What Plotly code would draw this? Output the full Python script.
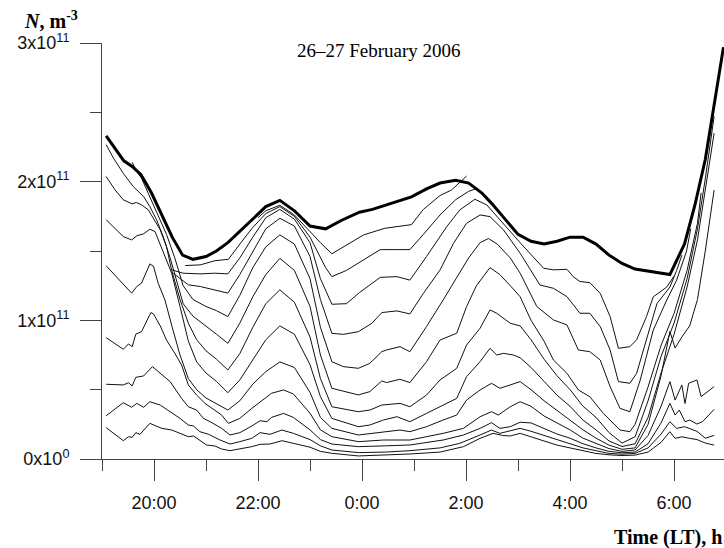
import plotly.graph_objects as go

# Time in hours (19 = 19:00 on 26 Feb, 24 = 0:00, 30 = 6:00 on 27 Feb); N in units of 1e11 m^-3
tick_hours = [20, 22, 24, 26, 28, 30]
tick_text = ["20:00", "22:00", "0:00", "2:00", "4:00", "6:00"]
minor_hours = [19, 21, 23, 25, 27, 29]
y_ticks = [0, 1, 2, 3]
y_text = ["0x10<sup>0</sup>", "1x10<sup>11</sup>", "2x10<sup>11</sup>", "3x10<sup>11</sup>"]
y_minor = [0.5, 1.5, 2.5]

# thick curve (peak density)
t_T = [19.08, 19.25, 19.42, 19.58, 19.75, 19.95, 20.15, 20.35, 20.55, 20.75, 21.0, 21.2, 21.42, 21.65, 21.9,
       22.15, 22.42, 22.7, 23.0, 23.3, 23.6, 23.95, 24.2, 24.45, 24.7, 24.95, 25.25, 25.5, 25.8, 26.05, 26.3,
       26.5, 26.75, 27.0, 27.25, 27.5, 27.75, 28.0, 28.25, 28.5, 28.75, 29.0, 29.25, 29.5, 29.75, 29.92, 30.2,
       30.4, 30.6, 30.77, 30.95]
n_T = [2.33, 2.24, 2.15, 2.11, 2.05, 1.92, 1.76, 1.60, 1.47, 1.44, 1.46, 1.50, 1.56, 1.64, 1.73,
       1.82, 1.865, 1.79, 1.68, 1.66, 1.72, 1.78, 1.80, 1.83, 1.855, 1.89, 1.95, 1.99, 2.01, 1.99, 1.92,
       1.84, 1.73, 1.62, 1.57, 1.55, 1.57, 1.60, 1.60, 1.55, 1.47, 1.41, 1.37, 1.355, 1.345, 1.33, 1.55,
       1.83, 2.16, 2.55, 2.97]

t_C1 = [22.0, 22.15, 22.42, 22.7, 23.0, 23.2, 23.42, 23.7, 24.03, 24.44, 24.7, 24.95, 25.18, 25.5, 25.72, 26.01]
n_C1 = [1.74, 1.79, 1.83, 1.76, 1.64, 1.56, 1.48, 1.54, 1.616, 1.664, 1.68, 1.69, 1.80, 1.90, 1.94, 2.04]

t_C2 = [20.6, 20.89, 21.17, 21.43, 21.65, 21.9, 22.15, 22.42, 22.7, 23.0, 23.3, 23.42, 23.7, 23.95, 24.35,
        24.67, 24.92, 25.18, 25.5, 25.8, 26.05, 26.2, 26.4, 26.6]
n_C2 = [1.395, 1.40, 1.43, 1.44, 1.55, 1.67, 1.77, 1.82, 1.75, 1.60, 1.38, 1.315, 1.36, 1.42, 1.51,
        1.51, 1.51, 1.62, 1.76, 1.87, 1.93, 1.95, 1.89, 1.79]

t_C3 = [20.34, 20.56, 20.89, 21.17, 21.42, 21.65, 21.9, 22.15, 22.42, 22.7, 23.0, 23.2, 23.42, 23.7, 23.95,
        24.35, 24.67, 24.92, 25.24, 25.63, 25.88, 26.17, 26.4, 26.65, 27.04, 27.49, 27.68, 27.94, 28.06, 28.19,
        28.38, 28.58, 28.77, 28.93, 29.15, 29.28, 29.47, 29.6, 29.86, 30.0]
n_C3 = [1.364, 1.34, 1.335, 1.34, 1.335, 1.45, 1.60, 1.74, 1.80, 1.73, 1.56, 1.30, 1.116, 1.12, 1.20,
        1.31, 1.315, 1.29, 1.46, 1.676, 1.796, 1.873, 1.832, 1.724, 1.56, 1.376, 1.364, 1.368, 1.315, 1.28,
        1.272, 1.195, 1.027, 0.798, 0.81, 0.86, 1.027, 1.17, 1.24, 1.32]

t_C4 = [20.37, 20.66, 20.89, 21.14, 21.42, 21.65, 21.9, 22.15, 22.42, 22.7, 23.0, 23.2, 23.42, 23.64, 23.93,
        24.19, 24.38, 24.67, 24.92, 25.18, 25.5, 25.76, 26.01, 26.27, 26.46, 26.72, 27.04, 27.42, 27.68, 27.94,
        28.19, 28.38, 28.58, 28.77, 28.93, 29.15, 29.28, 29.47, 29.67, 29.92, 30.05, 30.15]
n_C4 = [1.34, 1.256, 1.244, 1.22, 1.196, 1.33, 1.50, 1.66, 1.736, 1.68, 1.46, 1.15, 0.906, 0.899, 0.918,
        0.979, 1.056, 1.068, 1.046, 1.195, 1.363, 1.556, 1.70, 1.76, 1.748, 1.652, 1.484, 1.255, 1.231, 1.171,
        1.051, 1.051, 0.955, 0.786, 0.558, 0.546, 0.618, 0.858, 1.12, 1.24, 1.36, 1.47]

t_C5 = [19.58, 19.67, 19.76, 19.92, 20.08, 20.24, 20.4, 20.56, 20.75, 21.0, 21.2, 21.42, 21.65, 21.9, 22.15,
        22.42, 22.7, 23.0, 23.2, 23.42, 23.64, 23.93, 24.15, 24.38, 24.47, 24.73, 24.92, 25.24, 25.56, 25.8,
        26.05, 26.27, 26.43, 26.6, 26.85, 27.04, 27.36, 27.68, 27.94, 28.16, 28.38, 28.58, 28.77, 28.96, 29.15,
        29.35, 29.6, 29.86, 30.05, 30.24, 30.32]
n_C5 = [2.14, 2.073, 2.025, 1.893, 1.761, 1.62, 1.45, 1.25, 1.15, 1.10, 1.07, 1.027, 1.18, 1.38, 1.53,
        1.616, 1.55, 1.30, 0.95, 0.702, 0.666, 0.654, 0.69, 0.774, 0.786, 0.81, 0.774, 0.955, 1.147, 1.30,
        1.45, 1.56, 1.59, 1.55, 1.45, 1.34, 1.10, 1.003, 0.967, 0.786, 0.774, 0.714, 0.522, 0.365, 0.341,
        0.57, 0.93, 1.147, 1.29, 1.50, 1.66]

t_C6 = [19.08, 19.22, 19.41, 19.6, 19.8, 19.92, 20.05, 20.18, 20.31, 20.44, 20.56, 20.75, 21.0, 21.2, 21.42,
        21.65, 21.9, 22.15, 22.42, 22.7, 23.0, 23.2, 23.42, 23.93, 24.15, 24.38, 24.47, 24.73, 24.92, 25.24,
        25.5, 25.82, 26.01, 26.2, 26.46, 26.65, 26.85, 27.04, 27.25, 27.5, 27.68, 27.94, 28.16, 28.38, 28.64,
        28.96, 29.15, 29.25, 29.5, 29.75, 30.0, 30.25, 30.45, 30.52]
n_C6 = [2.266, 2.17, 2.06, 1.965, 1.893, 1.82, 1.725, 1.60, 1.45, 1.28, 1.12, 1.03, 0.96, 0.90, 0.834,
        0.98, 1.17, 1.33, 1.447, 1.36, 1.10, 0.75, 0.51, 0.462, 0.486, 0.563, 0.551, 0.575, 0.551, 0.702,
        0.858, 0.907, 1.099, 1.25, 1.38, 1.33, 1.25, 1.17, 1.00, 0.85, 0.714, 0.618, 0.498, 0.449, 0.329,
        0.209, 0.197, 0.25, 0.52, 0.82, 1.05, 1.36, 1.70, 1.92]

t_C7 = [19.08, 19.25, 19.41, 19.58, 19.66, 19.76, 19.89, 19.99, 20.12, 20.24, 20.34, 20.5, 20.66, 20.82, 21.0,
        21.2, 21.42, 21.65, 21.9, 22.15, 22.42, 22.7, 23.0, 23.2, 23.42, 23.93, 24.15, 24.38, 24.73, 24.92,
        25.24, 25.5, 25.82, 26.01, 26.27, 26.46, 26.59, 26.85, 27.04, 27.25, 27.5, 27.75, 28.0, 28.25, 28.5,
        28.75, 29.0, 29.25, 29.5, 29.75, 30.0, 30.25, 30.45, 30.6, 30.77]
n_C7 = [2.037, 1.941, 1.869, 1.84, 1.85, 1.833, 1.797, 1.737, 1.652, 1.532, 1.36, 1.15, 0.98, 0.86, 0.78,
        0.72, 0.642, 0.76, 0.95, 1.12, 1.22, 1.13, 0.88, 0.58, 0.377, 0.341, 0.353, 0.389, 0.401, 0.377,
        0.461, 0.57, 0.654, 0.822, 0.943, 1.075, 1.051, 0.979, 0.96, 0.86, 0.72, 0.60, 0.50, 0.38, 0.30,
        0.19, 0.115, 0.16, 0.42, 0.74, 0.98, 1.30, 1.66, 2.02, 2.47]

t_C8 = [19.08, 19.41, 19.57, 19.67, 19.8, 19.92, 20.02, 20.18, 20.34, 20.5, 20.66, 20.82, 21.0, 21.2, 21.42,
        21.65, 21.9, 22.15, 22.42, 22.7, 23.0, 23.2, 23.42, 23.93, 24.15, 24.41, 24.67, 24.92, 25.24, 25.5,
        25.82, 26.01, 26.27, 26.46, 26.59, 26.72, 26.91, 27.04, 27.25, 27.5, 27.75, 28.0, 28.25, 28.5, 28.75,
        29.0, 29.25, 29.5, 29.75, 30.0, 30.25, 30.45, 30.6, 30.77]
n_C8 = [1.725, 1.604, 1.58, 1.61, 1.624, 1.657, 1.64, 1.496, 1.34, 1.10, 0.85, 0.70, 0.62, 0.56, 0.478,
        0.57, 0.72, 0.86, 0.96, 0.90, 0.68, 0.45, 0.293, 0.233, 0.245, 0.281, 0.305, 0.269, 0.329, 0.377,
        0.437, 0.594, 0.702, 0.798, 0.75, 0.762, 0.75, 0.73, 0.66, 0.56, 0.46, 0.38, 0.28, 0.21, 0.13,
        0.09, 0.11, 0.30, 0.62, 0.90, 1.24, 1.58, 1.93, 2.35]

t_C9 = [19.08, 19.41, 19.57, 19.67, 19.76, 19.92, 19.99, 20.08, 20.21, 20.35, 20.5, 20.66, 20.82, 21.0, 21.2,
        21.42, 21.65, 21.9, 22.15, 22.42, 22.7, 23.0, 23.2, 23.42, 23.93, 24.41, 24.73, 24.92, 25.24, 25.56,
        25.82, 26.01, 26.27, 26.49, 26.65, 26.85, 27.04, 27.25, 27.5, 27.75, 28.0, 28.25, 28.5, 28.75, 29.0,
        29.25, 29.5, 29.75, 29.92, 30.02, 30.15, 30.3, 30.45, 30.6, 30.77]
n_C9 = [1.393, 1.26, 1.196, 1.244, 1.268, 1.407, 1.39, 1.268, 1.147, 0.95, 0.75, 0.58, 0.50, 0.44, 0.40,
        0.353, 0.42, 0.54, 0.63, 0.70, 0.66, 0.48, 0.30, 0.221, 0.173, 0.197, 0.209, 0.197, 0.233, 0.281,
        0.317, 0.425, 0.498, 0.546, 0.51, 0.534, 0.558, 0.50, 0.42, 0.35, 0.28, 0.21, 0.15, 0.10, 0.07,
        0.08, 0.25, 0.60, 0.92, 0.80, 0.88, 0.96, 1.15, 1.50, 1.94]

t_C10 = [19.08, 19.41, 19.51, 19.58, 19.65, 19.76, 19.94, 19.99, 20.12, 20.24, 20.4, 20.53, 20.66, 20.82, 20.98,
         21.11, 21.3, 21.43, 21.65, 21.88, 22.04, 22.26, 22.49, 22.68, 23.0, 23.2, 23.42, 23.93, 24.41, 24.92,
         25.56, 25.95, 26.27, 26.49, 26.62, 26.85, 27.04, 27.25, 27.5, 27.75, 28.0, 28.25, 28.5, 28.75, 29.0,
         29.25, 29.5, 29.75, 29.92, 30.02, 30.15, 30.21, 30.28, 30.44, 30.52, 30.77]
n_C10 = [0.875, 0.791, 0.83, 0.81, 0.90, 0.918, 1.056, 1.046, 0.96, 0.858, 0.762, 0.678, 0.534, 0.461, 0.401,
         0.365, 0.317, 0.257, 0.293, 0.365, 0.413, 0.474, 0.498, 0.469, 0.33, 0.21, 0.161, 0.125, 0.137, 0.137,
         0.185, 0.221, 0.305, 0.341, 0.317, 0.377, 0.413, 0.38, 0.31, 0.26, 0.21, 0.15, 0.11, 0.075, 0.055,
         0.065, 0.17, 0.38, 0.558, 0.425, 0.534, 0.40, 0.546, 0.57, 0.45, 0.522]

t_C11 = [19.08, 19.41, 19.51, 19.58, 19.65, 19.8, 19.97, 20.15, 20.31, 20.53, 20.66, 20.82, 20.95, 21.08, 21.3,
         21.46, 21.65, 21.88, 22.04, 22.17, 22.26, 22.49, 22.68, 23.0, 23.2, 23.42, 23.93, 24.45, 24.92, 25.56,
         25.95, 26.27, 26.49, 26.65, 26.85, 27.04, 27.25, 27.5, 27.75, 28.0, 28.25, 28.5, 28.75, 29.0, 29.25,
         29.5, 29.75, 29.92, 30.02, 30.1, 30.21, 30.3, 30.44, 30.55, 30.77]
n_C11 = [0.539, 0.534, 0.55, 0.527, 0.589, 0.599, 0.666, 0.606, 0.558, 0.437, 0.377, 0.353, 0.293, 0.269, 0.221,
         0.173, 0.19, 0.238, 0.276, 0.269, 0.30, 0.329, 0.30, 0.21, 0.14, 0.108, 0.089, 0.095, 0.101, 0.137,
         0.173, 0.221, 0.262, 0.221, 0.233, 0.265, 0.26, 0.22, 0.18, 0.15, 0.11, 0.08, 0.055, 0.045, 0.05,
         0.11, 0.26, 0.401, 0.317, 0.353, 0.269, 0.281, 0.252, 0.27, 0.358]

t_C12 = [19.08, 19.41, 19.57, 19.67, 19.8, 19.92, 20.12, 20.31, 20.5, 20.66, 20.76, 20.88, 21.05, 21.27, 21.46,
         21.65, 21.88, 22.04, 22.23, 22.46, 22.68, 23.0, 23.2, 23.42, 23.93, 24.45, 24.92, 25.5, 25.88, 26.27,
         26.49, 26.65, 27.04, 27.25, 27.5, 27.75, 28.0, 28.25, 28.5, 28.75, 29.0, 29.25, 29.5, 29.75, 29.92,
         30.05, 30.2, 30.44, 30.6, 30.77]
n_C12 = [0.312, 0.406, 0.373, 0.401, 0.373, 0.413, 0.389, 0.341, 0.293, 0.245, 0.238, 0.197, 0.178, 0.137, 0.108,
         0.125, 0.149, 0.19, 0.178, 0.209, 0.185, 0.14, 0.095, 0.065, 0.046, 0.05, 0.06, 0.08, 0.113, 0.173,
         0.209, 0.185, 0.221, 0.20, 0.17, 0.14, 0.11, 0.08, 0.06, 0.04, 0.035, 0.04, 0.08, 0.18, 0.269,
         0.221, 0.233, 0.20, 0.15, 0.17]

t_C13 = [19.08, 19.41, 19.51, 19.58, 19.65, 19.73, 19.92, 20.15, 20.34, 20.5, 20.66, 20.76, 20.88, 21.01, 21.17,
         21.3, 21.46, 21.65, 21.88, 22.04, 22.23, 22.46, 22.68, 23.0, 23.2, 23.42, 23.93, 24.45, 24.92, 25.5,
         25.95, 26.27, 26.52, 26.7, 26.85, 27.04, 27.25, 27.5, 27.75, 28.0, 28.25, 28.5, 28.75, 29.0, 29.25,
         29.5, 29.75, 29.92, 30.02, 30.15, 30.3, 30.44, 30.6, 30.77]
n_C13 = [0.226, 0.132, 0.161, 0.156, 0.19, 0.178, 0.257, 0.221, 0.209, 0.185, 0.161, 0.166, 0.137, 0.101, 0.094,
         0.072, 0.06, 0.072, 0.089, 0.106, 0.108, 0.132, 0.113, 0.085, 0.055, 0.041, 0.022, 0.028, 0.036, 0.05,
         0.089, 0.149, 0.185, 0.17, 0.166, 0.185, 0.16, 0.13, 0.10, 0.08, 0.06, 0.04, 0.03, 0.025, 0.028,
         0.05, 0.12, 0.197, 0.149, 0.16, 0.149, 0.14, 0.115, 0.10]

thin_curves = [(t_C1, n_C1), (t_C2, n_C2), (t_C3, n_C3), (t_C4, n_C4), (t_C5, n_C5), (t_C6, n_C6),
               (t_C7, n_C7), (t_C8, n_C8), (t_C9, n_C9), (t_C10, n_C10), (t_C11, n_C11), (t_C12, n_C12),
               (t_C13, n_C13)]

fig = go.Figure()
for tt, nn in thin_curves:
    fig.add_trace(go.Scatter(x=tt, y=nn, mode="lines", line=dict(color="#111111", width=1),
                             showlegend=False, hoverinfo="skip"))
fig.add_trace(go.Scatter(x=t_T, y=n_T, mode="lines", line=dict(color="#000000", width=3),
                         showlegend=False, hoverinfo="skip"))

axis_col = "#444444"
tick_font = dict(family="Liberation Sans, Arial, sans-serif", size=18, color="#111111")
serif = "Liberation Serif, Times New Roman, serif"

fig.update_layout(
    width=724, height=548,
    margin=dict(l=102, r=0, t=43, b=89),
    paper_bgcolor="white", plot_bgcolor="white",
    showlegend=False,
    xaxis=dict(range=[19, 30.96], tickmode="array", tickvals=tick_hours, ticktext=tick_text,
               ticks="outside", ticklen=21, tickwidth=1, tickcolor=axis_col,
               showline=True, linecolor=axis_col, linewidth=1, showgrid=False, zeroline=False,
               tickfont=tick_font, ticklabelstandoff=6,
               minor=dict(tickmode="array", tickvals=minor_hours, ticks="outside", ticklen=11,
                          tickwidth=1, tickcolor=axis_col, showgrid=False)),
    yaxis=dict(range=[0, 3], tickmode="array", tickvals=y_ticks, ticktext=y_text,
               ticks="outside", ticklen=21, tickwidth=1, tickcolor=axis_col,
               showline=True, linecolor=axis_col, linewidth=1, showgrid=False, zeroline=False,
               tickfont=tick_font, ticklabelstandoff=7,
               minor=dict(tickmode="array", tickvals=y_minor, ticks="outside", ticklen=11,
                          tickwidth=1, tickcolor=axis_col, showgrid=False)),
    annotations=[
        dict(text="<b><i>N</i>, m<sup>-3</sup></b>", xref="paper", yref="paper",
             x=-0.129, y=1.055, xanchor="left", yanchor="middle", showarrow=False,
             font=dict(family=serif, size=20, color="#000000")),
        dict(text="26\u201327 February 2006", xref="paper", yref="paper",
             x=0.445, y=0.983, xanchor="center", yanchor="middle", showarrow=False,
             font=dict(family=serif, size=19, color="#000000")),
        dict(text="<b>Time (LT), h</b>", xref="paper", yref="paper",
             x=1.0, y=-0.1875, xanchor="right", yanchor="middle", showarrow=False,
             font=dict(family=serif, size=20, color="#000000")),
    ],
)

fig.write_html("out.html", config={"displayModeBar": False},
               post_script="document.body.style.margin='0';document.body.style.overflow='hidden';")
